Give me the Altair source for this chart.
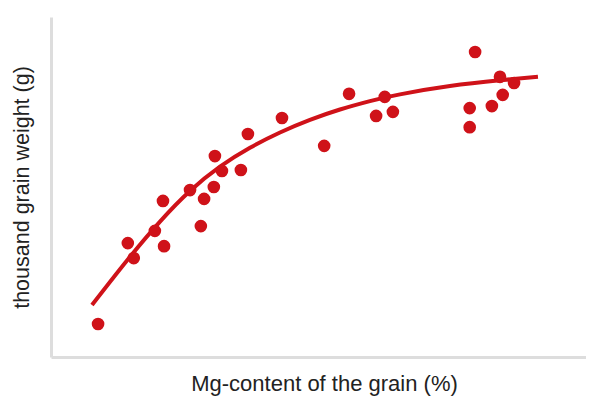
import altair as alt
import pandas as pd

# scatter data (arbitrary units)
mg = [8.7, 14.2, 15.3, 19.2, 20.7, 20.9, 25.7, 27.7, 28.3, 30.1, 30.3, 31.6, 35.1, 36.4,
      42.7, 50.5, 55.1, 60.1, 61.7, 63.2, 77.4, 77.4, 78.4, 81.5, 83.0, 83.5, 85.6]
weight = [9.7, 33.5, 29.1, 37.1, 45.9, 32.6, 49.1, 38.5, 46.5, 50.0, 59.1, 54.7, 55.0, 65.6,
          70.3, 62.1, 77.4, 70.9, 76.5, 72.1, 73.2, 67.6, 89.7, 73.8, 82.4, 77.1, 80.6]

# fitted curve
fit_x = [7.58, 14.05, 20.15, 25.69, 31.24, 36.78, 42.33, 47.87, 53.42, 58.96, 64.51, 73.75, 82.99, 90.02]
fit_y = [15.29, 28.38, 39.82, 48.82, 55.97, 61.53, 66.03, 69.74, 72.79, 75.26, 77.25, 79.68, 81.37, 82.44]

pts = pd.DataFrame({"x": mg, "y": weight})
fit = pd.DataFrame({"x": fit_x, "y": fit_y})

red = "#cf1219"

xs = alt.Scale(domain=[0, 98.9], nice=False, zero=False)
ys = alt.Scale(domain=[0, 100], nice=False, zero=False)

xaxis = alt.Axis(title="Mg-content of the grain (%)", labels=False, ticks=False, grid=False,
                 domainColor="#dddddd", domainWidth=3, titleFont="Liberation Sans",
                 titleFontSize=22, titleFontWeight="normal", titleColor="#222222",
                 titlePadding=16, titleX=273)
yaxis = alt.Axis(title="thousand grain weight (g)", labels=False, ticks=False, grid=False,
                 domainColor="#dddddd", domainWidth=3, titleFont="Liberation Sans",
                 titleFontSize=21.5, titleFontWeight="normal", titleColor="#222222",
                 titlePadding=18)

line = alt.Chart(fit).mark_line(color=red, strokeWidth=4, interpolate="natural").encode(
    x=alt.X("x:Q", scale=xs, axis=xaxis),
    y=alt.Y("y:Q", scale=ys, axis=yaxis),
)
dots = alt.Chart(pts).mark_circle(color=red, size=160, opacity=1).encode(
    x=alt.X("x:Q", scale=xs),
    y=alt.Y("y:Q", scale=ys),
)

chart = (line + dots).properties(
    width=535, height=340,
    autosize=alt.AutoSizeParams(type="none"),
    padding={"left": 43, "top": 9, "right": 0, "bottom": 41},
).configure_view(stroke=None)

chart.save("out.html", embed_options={"renderer": "svg", "actions": False})
